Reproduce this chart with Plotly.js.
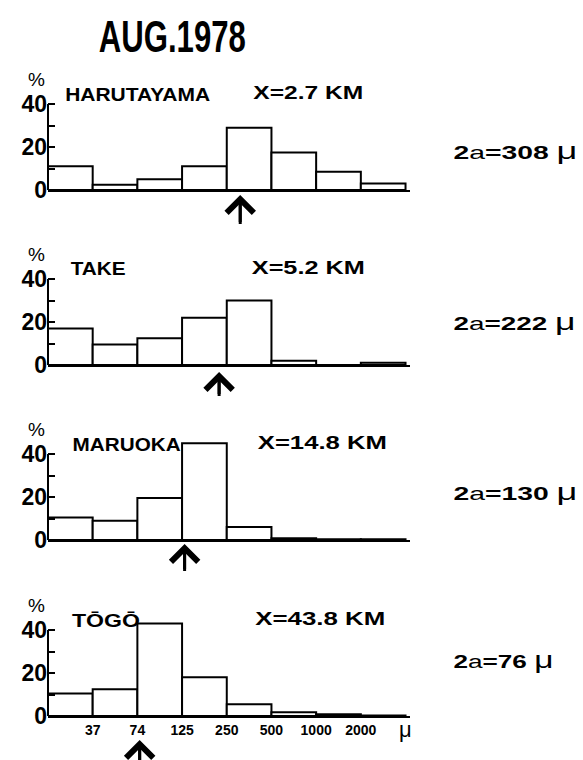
<!DOCTYPE html>
<html><head><meta charset="utf-8">
<script src="https://cdn.plot.ly/plotly-3.0.1.min.js"></script>
<style>html,body{margin:0;padding:0;background:#fff}</style></head>
<body>
<div id="chart" style="width:583px;height:760px"></div>
<script>
// ---- data ----
const sizeClasses = ['<37','37-74','74-125','125-250','250-500','500-1000','1000-2000','>2000'];
const edgeLabels = ['37','74','125','250','500','1000','2000'];
const edgeValues = [37,74,125,250,500,1000,2000];
const stations = ['HARUTAYAMA','TAKE','MARUOKA','TŌGŌ'];
const distances = ['X=2.7 KM','X=5.2 KM','X=14.8 KM','X=43.8 KM'];
const meanDiameters = [308,222,130,76];
const harutayama = [11,2.5,5,11,29,17.5,8.5,3];
const take = [17,9.5,12.5,22,30,2,0,1];
const maruoka = [10.5,9,19.5,45,6,0.8,0.3,0.3];
const togo = [10.5,12.5,43,18,5.5,1.8,0.8,0.2];
const series = [harutayama, take, maruoka, togo];

// ---- layout helpers ----
const W = 583, H = 760;
const px = v => v / W, py = v => 1 - v / H;
const baselines = [190, 365, 540, 716];
const panelH = 86;          // pixels for 40 %
const yMax = 48;
const xLeft = 48, xRight = 410;
const FONT = 'Liberation Sans, Arial, sans-serif';

function diamToPos(d) {
  for (let i = 0; i < edgeValues.length - 1; i++) {
    if (d >= edgeValues[i] && d <= edgeValues[i + 1]) {
      return (i + 1) + Math.log(d / edgeValues[i]) / Math.log(edgeValues[i + 1] / edgeValues[i]);
    }
  }
  return 0;
}

const traces = [];
const layout = {
  width: W, height: H,
  margin: {l: 0, r: 0, t: 0, b: 0},
  paper_bgcolor: '#fff', plot_bgcolor: 'rgba(0,0,0,0)',
  showlegend: false, bargap: 0,
  font: {family: FONT, color: '#000'},
  annotations: [], shapes: []
};

// text boxes: [left px, width px]
const stationBox = [[65,145],[70,55],[72,108],[72,68]];
const distBox = [[253,110],[252,113],[258,129],[255,130]];
const rightBox = [[453,124],[453,122],[453,124],[453,100]];
const rightY = [151, 322, 492, 660];
const arrowTip = [5, 7, 4, 24];     // px below baseline
const arrowTail = [34, 31, 31, 48];
const stretch = [];   // [text, width]

function addStretched(text, box, yPix, size, bold) {
  layout.annotations.push({xref: 'paper', yref: 'paper', x: px(box[0] + box[1] / 2), y: py(yPix),
    text: text, showarrow: false, xanchor: 'center', yanchor: 'middle',
    font: {size: size, family: FONT, weight: bold ? 'bold' : 'normal'}});
  stretch.push([text.replace(/<[^>]+>/g, ''), box[1]]);
}

const axisNames = [];
series.forEach((vals, i) => {
  const n = i + 1;
  const xa = 'xaxis' + (n === 1 ? '' : n), ya = 'yaxis' + (n === 1 ? '' : n);
  const xr = 'x' + (n === 1 ? '' : n), yr = 'y' + (n === 1 ? '' : n);
  axisNames.push(xa);
  const b = baselines[i];
  traces.push({
    type: 'bar', x: vals.map((_, k) => k + 0.5), y: vals, width: 1,
    xaxis: xr, yaxis: yr,
    marker: {color: '#fff', line: {color: '#000', width: 2}},
    hoverinfo: 'skip'
  });
  layout[xa] = {
    domain: [px(xLeft), px(xRight)], range: [0, 8.1], anchor: yr,
    showline: true, linecolor: '#000', linewidth: 2, showgrid: false, zeroline: false,
    ticks: '', tickvals: i === 3 ? [1,2,3,4,5,6,7] : [],
    ticktext: i === 3 ? edgeLabels : [], showticklabels: i === 3,
    tickfont: {size: 14, family: FONT, weight: 'bold'}
  };
  layout[ya] = {
    domain: [py(b), py(b - panelH * yMax / 40)], range: [0, yMax], anchor: xr,
    showline: false, showgrid: false, zeroline: false,
    ticks: 'inside', ticklen: 7, tickwidth: 2, tickcolor: '#000',
    tickvals: [0, 10, 20, 30, 40], ticktext: ['0', '', '20', '', '40'],
    tickfont: {size: 23, family: FONT, weight: 'bold'}
  };
  layout.shapes.push({type: 'line', xref: 'paper', yref: yr, x0: px(xLeft), x1: px(xLeft), y0: 0, y1: 40,
                      line: {color: '#000', width: 2}});
  const pos = diamToPos(meanDiameters[i]);
  const A = layout.annotations;
  A.push({xref: 'paper', yref: 'paper', x: px(36), y: py(b - 111), text: '%', showarrow: false,
          xanchor: 'center', yanchor: 'middle', font: {size: 19, family: FONT}});
  addStretched(stations[i], stationBox[i], b - 96, 19, true);
  addStretched(distances[i], distBox[i], b - 97, 18, true);
  addStretched('<b>2</b>a<b>=' + meanDiameters[i] + ' </b><span style="font-size:23px">μ</span>',
               rightBox[i], rightY[i], 18, false);
  // arrow (head) marking the mean diameter
  A.push({xref: xr, yref: yr, x: pos, y: 0, text: ' ', showarrow: true,
          ax: 0, ay: arrowTail[i] - arrowTip[i], yshift: -arrowTip[i], arrowhead: 4, arrowsize: 1.75, arrowwidth: 3,
          arrowcolor: '#000', standoff: 0, startstandoff: 0, font: {size: 1}});
});

layout.annotations.push({xref: 'paper', yref: 'paper', x: px(397), y: py(729), text: 'μ', showarrow: false,
  xanchor: 'left', yanchor: 'middle', font: {size: 22, family: FONT}});
layout.annotations.push({xref: 'paper', yref: 'paper', x: px(172), y: py(37), text: 'AUG.1978', showarrow: false,
  xanchor: 'center', yanchor: 'middle', font: {size: 45, family: FONT, weight: 'bold'}});
stretch.push(['AUG.1978', 147]);

Plotly.newPlot('chart', traces, layout, {staticPlot: true, displayModeBar: false}).then(gd => {
  // reproduce the original lettering widths (condensed title, extended labels)
  function fixText() {
    gd.querySelectorAll('.annotation-text').forEach(t => {
      const hit = stretch.find(s => s[0] === t.textContent);
      if (hit) {
        t.setAttribute('textLength', String(hit[1]));
        t.setAttribute('lengthAdjust', 'spacingAndGlyphs');
      }
    });
  }
  // arrow shafts: place with the library's own axis scale
  const fl = gd._fullLayout;
  const shafts = meanDiameters.map((d, i) => {
    const ax = fl[axisNames[i]];
    const xPix = ax._offset + ax.l2p(diamToPos(d));
    const b = baselines[i];
    return {type: 'line', xref: 'paper', yref: 'paper', x0: xPix / W, x1: xPix / W,
            y0: py(b + arrowTip[i] + 3), y1: py(Math.min(b + arrowTail[i], H)),
            line: {color: '#000', width: 3}};
  });
  return Plotly.relayout(gd, {shapes: layout.shapes.concat(shafts)}).then(fixText);
});
</script>
</body></html>
